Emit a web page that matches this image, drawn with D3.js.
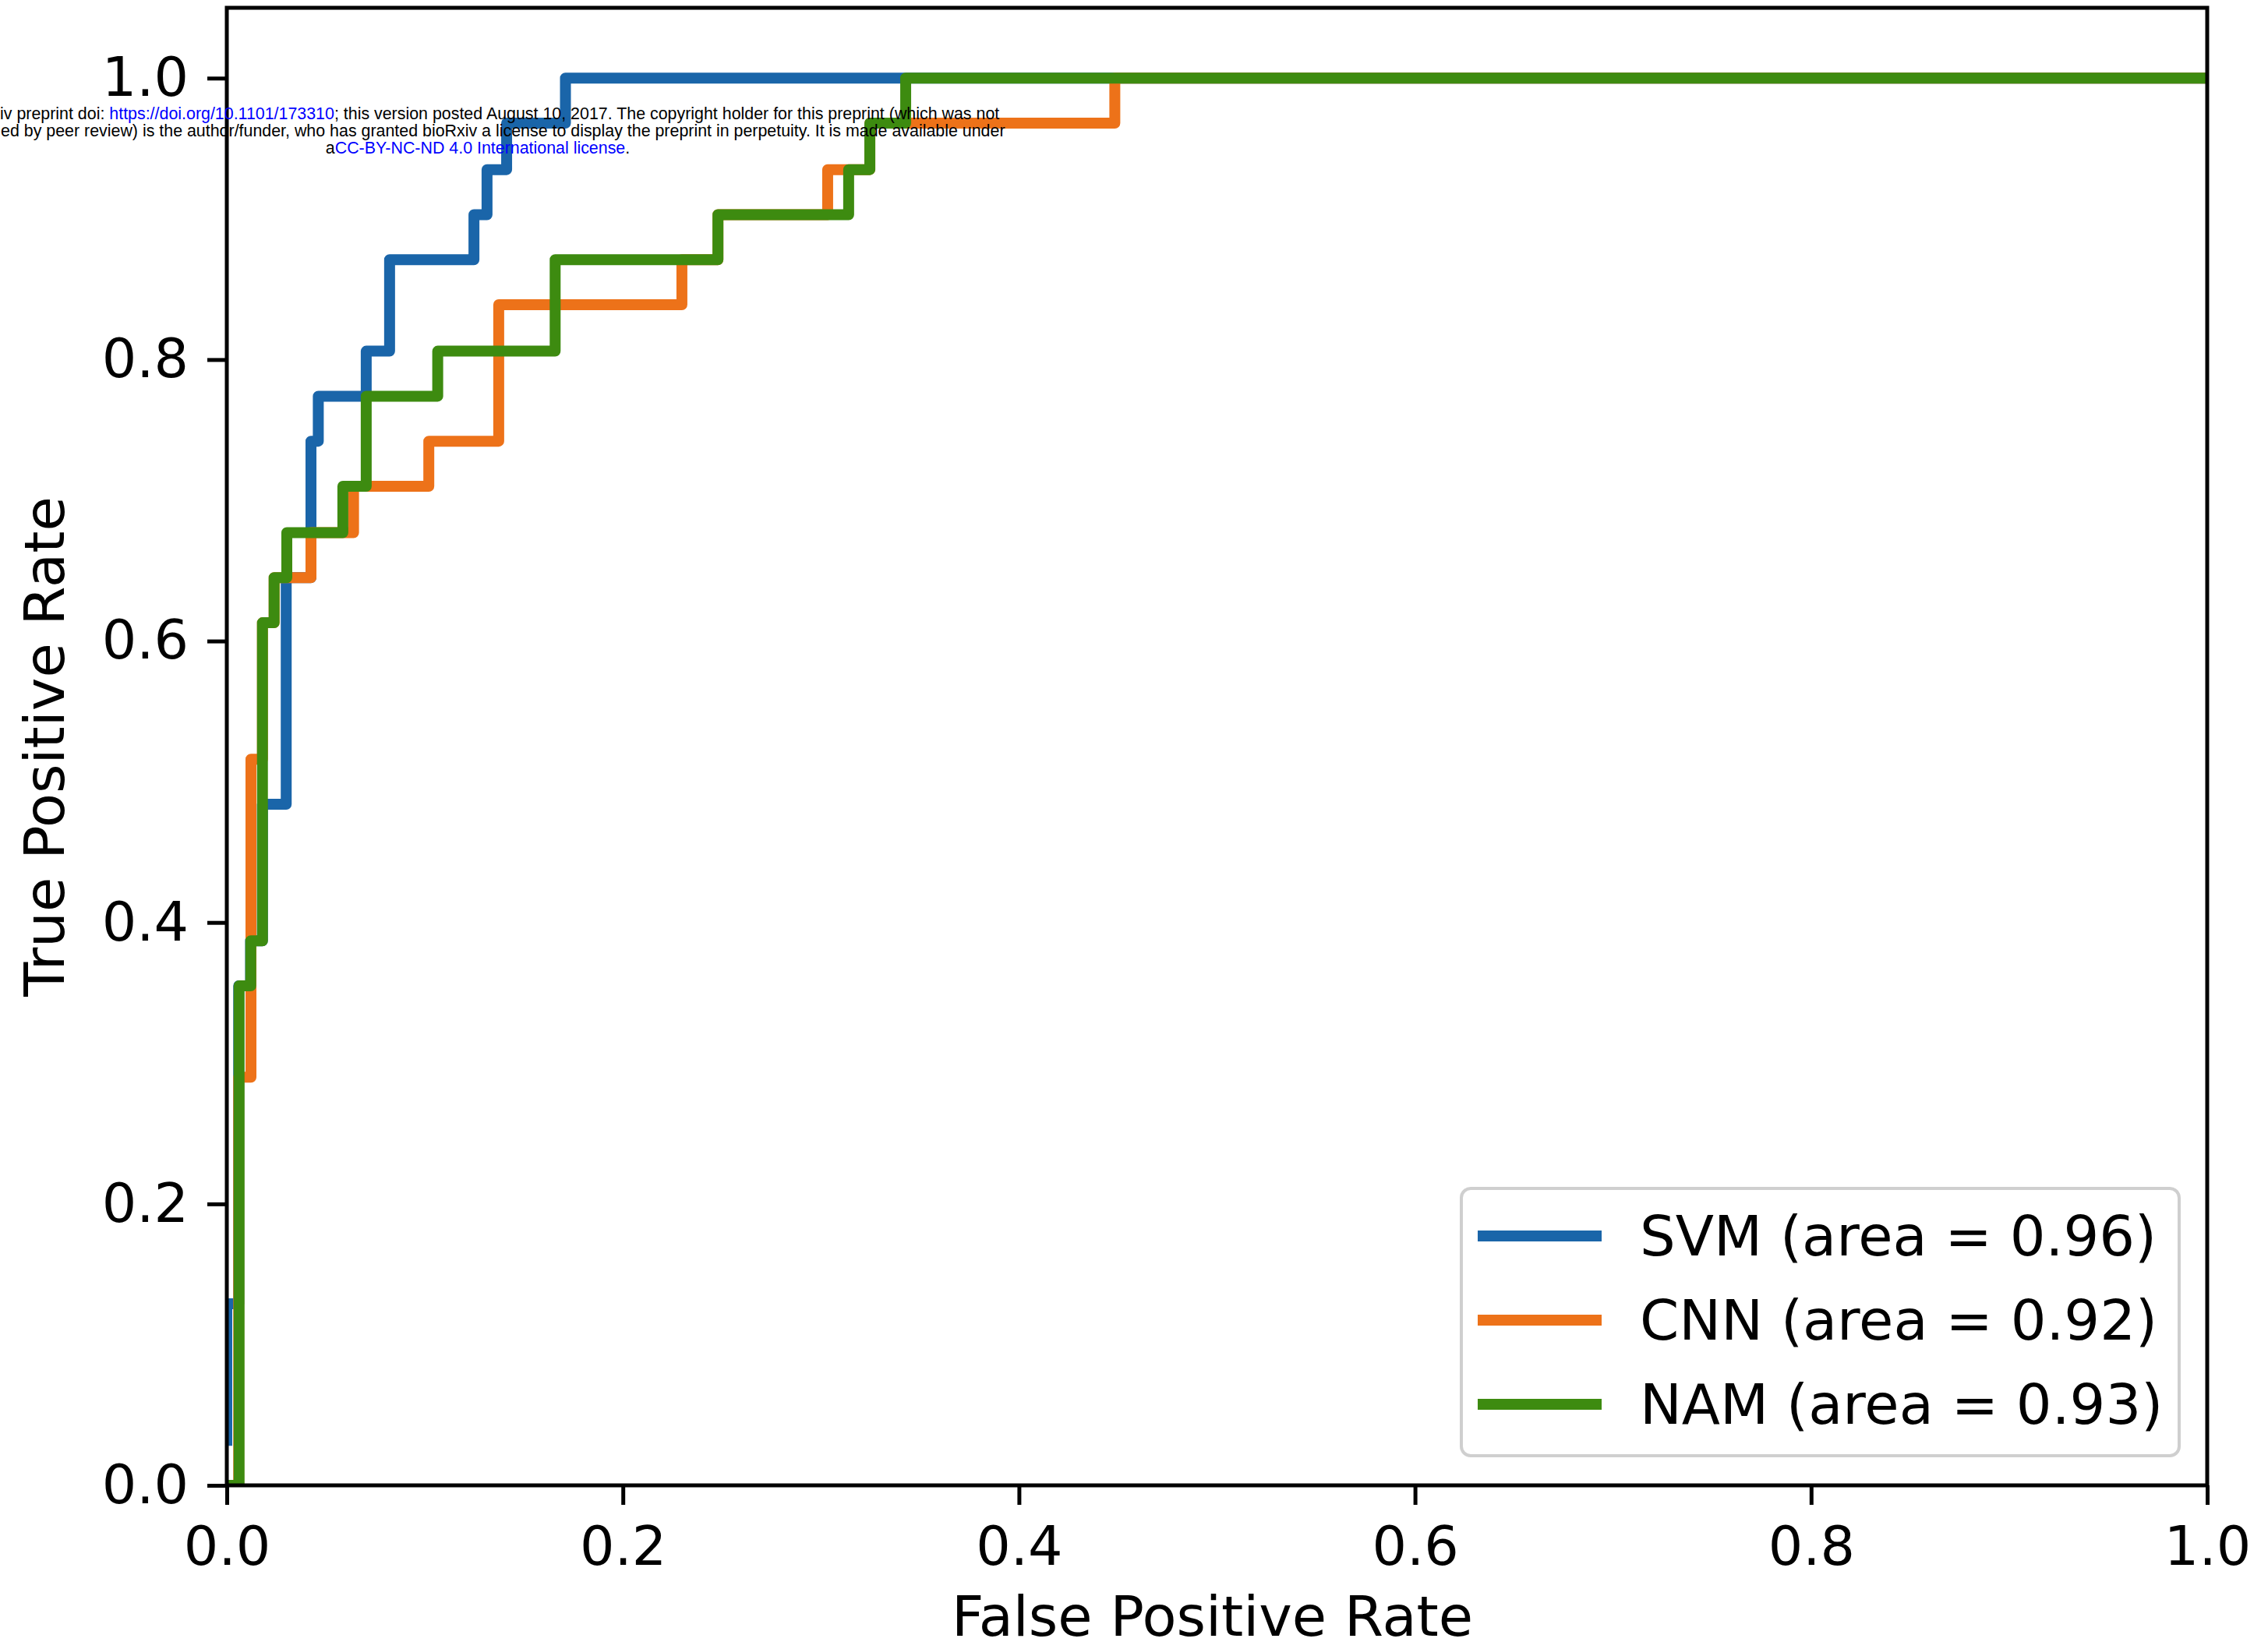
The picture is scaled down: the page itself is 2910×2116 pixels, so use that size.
<!DOCTYPE html>
<html>
<head>
<meta charset="utf-8">
<script src="https://d3js.org/d3.v7.min.js"></script>
<style>
  body { margin: 0; background: #ffffff; }
  svg { display: block; }
</style>
</head>
<body>
<div id="my_dataviz"></div>
<script>
// ROC curves (corner points of each step)
const models = ["SVM", "CNN", "NAM"];
const areas = [0.96, 0.92, 0.93];
const colors = ["#1a65a9", "#ed7219", "#3d8b10"];

const svmFpr = [0, 0, 0.006, 0.006, 0.012, 0.012, 0.018, 0.018, 0.030, 0.030, 0.0425, 0.0425, 0.0462, 0.0462,
                0.0704, 0.0704, 0.0822, 0.0822, 0.1248, 0.1248, 0.1314, 0.1314, 0.1413, 0.1413, 0.171, 0.171, 1.0];
const svmTpr = [0.032, 0.129, 0.129, 0.355, 0.355, 0.387, 0.387, 0.484, 0.484, 0.645, 0.645, 0.742, 0.742, 0.774,
                0.774, 0.806, 0.806, 0.871, 0.871, 0.903, 0.903, 0.935, 0.935, 0.968, 0.968, 1.0, 1.0];

const cnnFpr = [0, 0.006, 0.006, 0.0122, 0.0122, 0.018, 0.018, 0.0239, 0.0239, 0.0425, 0.0425, 0.064, 0.064, 0.102,
                0.102, 0.1373, 0.1373, 0.2298, 0.2298, 0.248, 0.248, 0.3034, 0.3034, 0.3247, 0.3247, 0.4484, 0.4484, 1.0];
const cnnTpr = [0, 0, 0.290, 0.290, 0.516, 0.516, 0.613, 0.613, 0.645, 0.645, 0.677, 0.677, 0.710, 0.710,
                0.742, 0.742, 0.839, 0.839, 0.871, 0.871, 0.903, 0.903, 0.935, 0.935, 0.968, 0.968, 1.0, 1.0];

const namFpr = [0, 0.0062, 0.0062, 0.0121, 0.0121, 0.018, 0.018, 0.0239, 0.0239, 0.0303, 0.0303, 0.0586, 0.0586, 0.0704,
                0.0704, 0.1065, 0.1065, 0.1658, 0.1658, 0.248, 0.248, 0.314, 0.314, 0.3247, 0.3247, 0.3428, 0.3428, 1.0];
const namTpr = [0, 0, 0.355, 0.355, 0.387, 0.387, 0.613, 0.613, 0.645, 0.645, 0.677, 0.677, 0.710, 0.710,
                0.774, 0.774, 0.806, 0.806, 0.871, 0.871, 0.903, 0.903, 0.935, 0.935, 0.968, 0.968, 1.0, 1.0];

const xTicks = [0, 0.2, 0.4, 0.6, 0.8, 1.0];
const yTicks = [0, 0.2, 0.4, 0.6, 0.8, 1.0];

// set the dimensions and margins of the graph
const margin = {top: 10, right: 78, bottom: 210, left: 291},
    width = 2910 - margin.left - margin.right,
    height = 2116 - margin.top - margin.bottom;

const svg = d3.select("#my_dataviz")
  .append("svg")
    .attr("width", 2910)
    .attr("height", 2116)
    .style("background", "#ffffff");

const g = svg.append("g")
    .attr("transform", `translate(${margin.left}, ${margin.top})`);

const x = d3.scaleLinear().domain([0, 1]).range([0, width]);
const y = d3.scaleLinear().domain([0, 1.05]).range([height, 0]);

// clip the curves to the axes box
g.append("clipPath").attr("id", "plotclip")
  .append("rect").attr("width", width).attr("height", height);

const series = [
  {name: models[0], fpr: svmFpr, tpr: svmTpr},
  {name: models[1], fpr: cnnFpr, tpr: cnnTpr},
  {name: models[2], fpr: namFpr, tpr: namTpr}
];

const line = d3.line()
    .x(d => x(d[0]))
    .y(d => y(d[1]));

g.append("g")
    .attr("clip-path", "url(#plotclip)")
  .selectAll("path")
  .data(series)
  .join("path")
    .attr("d", d => line(d.fpr.map((v, i) => [v, d.tpr[i]])))
    .attr("fill", "none")
    .attr("stroke", (d, i) => colors[i])
    .attr("stroke-width", 14)
    .attr("stroke-linejoin", "round")
    .attr("stroke-linecap", "square");

// X axis
const xAxis = g.append("g")
    .attr("transform", `translate(0, ${height})`)
    .call(d3.axisBottom(x).tickValues(xTicks).tickFormat(d3.format(".1f")).tickSize(25).tickPadding(27));

// Y axis
const yAxis = g.append("g")
    .call(d3.axisLeft(y).tickValues(yTicks).tickFormat(d3.format(".1f")).tickSize(25).tickPadding(24));

[xAxis, yAxis].forEach(a => {
  a.select(".domain").remove();
  a.attr("font-family", "DejaVu Sans").attr("font-size", 70);
  a.selectAll(".tick line").attr("stroke", "#000").attr("stroke-width", 5);
  a.selectAll(".tick text").attr("fill", "#000");
});

// spines on top of the curves
g.append("rect")
    .attr("width", width)
    .attr("height", height)
    .attr("fill", "none")
    .attr("stroke", "#000")
    .attr("stroke-width", 5);

// axis labels
g.append("text")
    .attr("x", width / 2 - 6)
    .attr("y", 2099 - margin.top)
    .attr("text-anchor", "middle")
    .attr("font-family", "DejaVu Sans")
    .attr("font-size", 72)
    .text("False Positive Rate");

g.append("text")
    .attr("transform", `translate(${82 - margin.left}, ${(y(0) + y(1.05)) / 2}) rotate(-90)`)
    .attr("text-anchor", "middle")
    .attr("font-family", "DejaVu Sans")
    .attr("font-size", 72)
    .text("True Positive Rate");

// legend
const legend = svg.append("g").attr("transform", "translate(1875, 1525)");
legend.append("rect")
    .attr("width", 921)
    .attr("height", 343)
    .attr("rx", 12)
    .attr("fill", "#ffffff")
    .attr("fill-opacity", 0.85)
    .attr("stroke", "#cfcfcf")
    .attr("stroke-width", 4);

const rows = legend.selectAll("g.row")
  .data(models)
  .join("g")
    .attr("class", "row")
    .attr("transform", (d, i) => `translate(0, ${61 + i * 108})`);

rows.append("line")
    .attr("x1", 21).attr("x2", 180)
    .attr("stroke", (d, i) => colors[i])
    .attr("stroke-width", 14);

rows.append("text")
    .attr("x", 229)
    .attr("dy", "0.35em")
    .attr("font-family", "DejaVu Sans")
    .attr("font-size", 72)
    .text((d, i) => `${d} (area = ${areas[i].toFixed(2)})`);

// preprint header stamped over the figure
const stamp = svg.append("g")
    .attr("font-family", "Liberation Sans")
    .attr("font-size", 21.4)
    .attr("fill", "#000");

const l1 = stamp.append("text").attr("x", 0).attr("y", 153);
l1.append("tspan").text("iv preprint doi: ");
l1.append("tspan").attr("fill", "#0000ff").text("https://doi.org/10.1101/173310");
l1.append("tspan").text("; this version posted August 10, 2017. The copyright holder for this preprint (which was not");

stamp.append("text").attr("x", 1).attr("y", 175)
    .text("ed by peer review) is the author/funder, who has granted bioRxiv a license to display the preprint in perpetuity. It is made available under");

const l3 = stamp.append("text").attr("x", 613).attr("y", 197).attr("text-anchor", "middle");
l3.append("tspan").text("a");
l3.append("tspan").attr("fill", "#0000ff").text("CC-BY-NC-ND 4.0 International license");
l3.append("tspan").text(".");
</script>
</body>
</html>
